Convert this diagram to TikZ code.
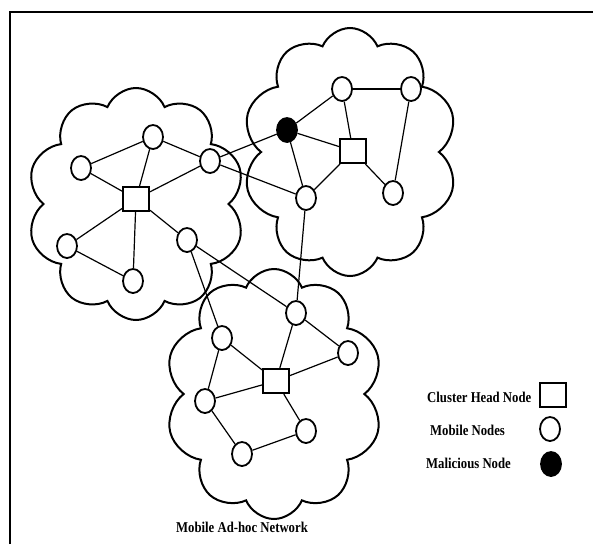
\documentclass[tikz,border=0pt]{standalone}
\usepackage{fontspec}
\setmainfont{Liberation Serif}
\newfontfamily\lblfont[FakeStretch=0.85]{Liberation Serif}
\usetikzlibrary{shapes.geometric,shapes.symbols}
\tikzset{
  mob/.style={ellipse,draw,line width=1.8pt,minimum width=20pt,minimum height=24pt,inner sep=0pt},
  mal/.style={mob,fill=black},
  head/.style={rectangle,draw,line width=2pt,minimum width=26pt,minimum height=24pt,inner sep=0pt},
  puff/.style={cloud,draw,line width=2pt,cloud puffs=10,cloud puff arc=135,cloud ignores aspect,inner sep=0pt},
  lbl/.style={font=\lblfont\fontsize{15}{17}\selectfont\bfseries,inner sep=0pt},
  link/.style={line width=1.2pt}
}
\begin{document}
\begin{tikzpicture}[x=1pt,y=-1pt]
  \useasboundingbox (0,0) rectangle (593,544);
  % frame
  \draw[line width=2.5pt] (10,544) -- (10,12) -- (593,12);
  % three clouds
  \node[puff,minimum width=218pt,minimum height=232pt] (cl1) at (136,204) {};
  \node[puff,minimum width=215pt,minimum height=248pt] (cl2) at (350,152) {};
  \node[puff,minimum width=218pt,minimum height=250pt] (cl3) at (274,394) {};
  % cluster 1
  \node[head] (h1) at (136,199) {};
  \node[mob] (a1) at (153,137) {};
  \node[mob] (a2) at (81,168) {};
  \node[mob] (a3) at (210,161) {};
  \node[mob] (a4) at (67,246) {};
  \node[mob] (a5) at (133,281) {};
  \node[mob] (a6) at (187,240) {};
  % cluster 2
  \node[head] (h2) at (353,151) {};
  \node[mal] (bad) at (287,130) {};
  \node[mob] (b1) at (342,89) {};
  \node[mob] (b2) at (411,89) {};
  \node[mob] (b3) at (393,193) {};
  \node[mob] (b4) at (306,198) {};
  % cluster 3
  \node[head] (h3) at (276,381) {};
  \node[mob] (c1) at (296,313) {};
  \node[mob] (c2) at (222,338) {};
  \node[mob] (c3) at (348,353) {};
  \node[mob] (c4) at (205,401) {};
  \node[mob] (c5) at (306,431) {};
  \node[mob] (c6) at (242,454) {};
  % links in cluster 1
  \draw[link] (a2) -- (a1);
  \draw[link] (a1) -- (a3);
  \draw[link] (a2) -- (h1);
  \draw[link] (a1) -- (h1);
  \draw[link] (a3) -- (h1);
  \draw[link] (h1) -- (a4);
  \draw[link] (h1) -- (a6);
  \draw[link] (h1) -- (a5);
  \draw[link] (a4) -- (a5);
  % links in cluster 2
  \draw[link] (bad) -- (b1);
  \draw[link] (b1) -- (b2);
  \draw[link] (b1) -- (h2);
  \draw[link] (bad) -- (h2);
  \draw[link] (bad) -- (b4);
  \draw[link] (b4) -- (h2);
  \draw[link] (h2) -- (b3);
  \draw[link] (b2) -- (b3);
  % links in cluster 3
  \draw[link] (c1) -- (h3);
  \draw[link] (c1) -- (c3);
  \draw[link] (h3) -- (c3);
  \draw[link] (c2) -- (h3);
  \draw[link] (c2) -- (c4);
  \draw[link] (c4) -- (h3);
  \draw[link] (h3) -- (c5);
  \draw[link] (c4) -- (c6);
  \draw[link] (c6) -- (c5);
  % links between clusters
  \draw[link] (a3) -- (bad);
  \draw[link] (a3) -- (b4);
  \draw[link] (a6) -- (c2);
  \draw[link] (a6) -- (c1);
  \draw[link] (b4) -- (c1);
  % legend
  \node[lbl,anchor=west] (t1) at (427,397) {Cluster Head Node};
  \node[head] (k1) at (553,395) {};
  \node[lbl,anchor=west] (t2) at (430,430) {Mobile Nodes};
  \node[mob] (k2) at (550,429) {};
  \node[lbl,anchor=west] (t3) at (426,463) {Malicious Node};
  \node[mal] (k3) at (551,464) {};
  % caption
  \node[lbl] (cap) at (242,527) {Mobile Ad-hoc Network};
\end{tikzpicture}
\end{document}
